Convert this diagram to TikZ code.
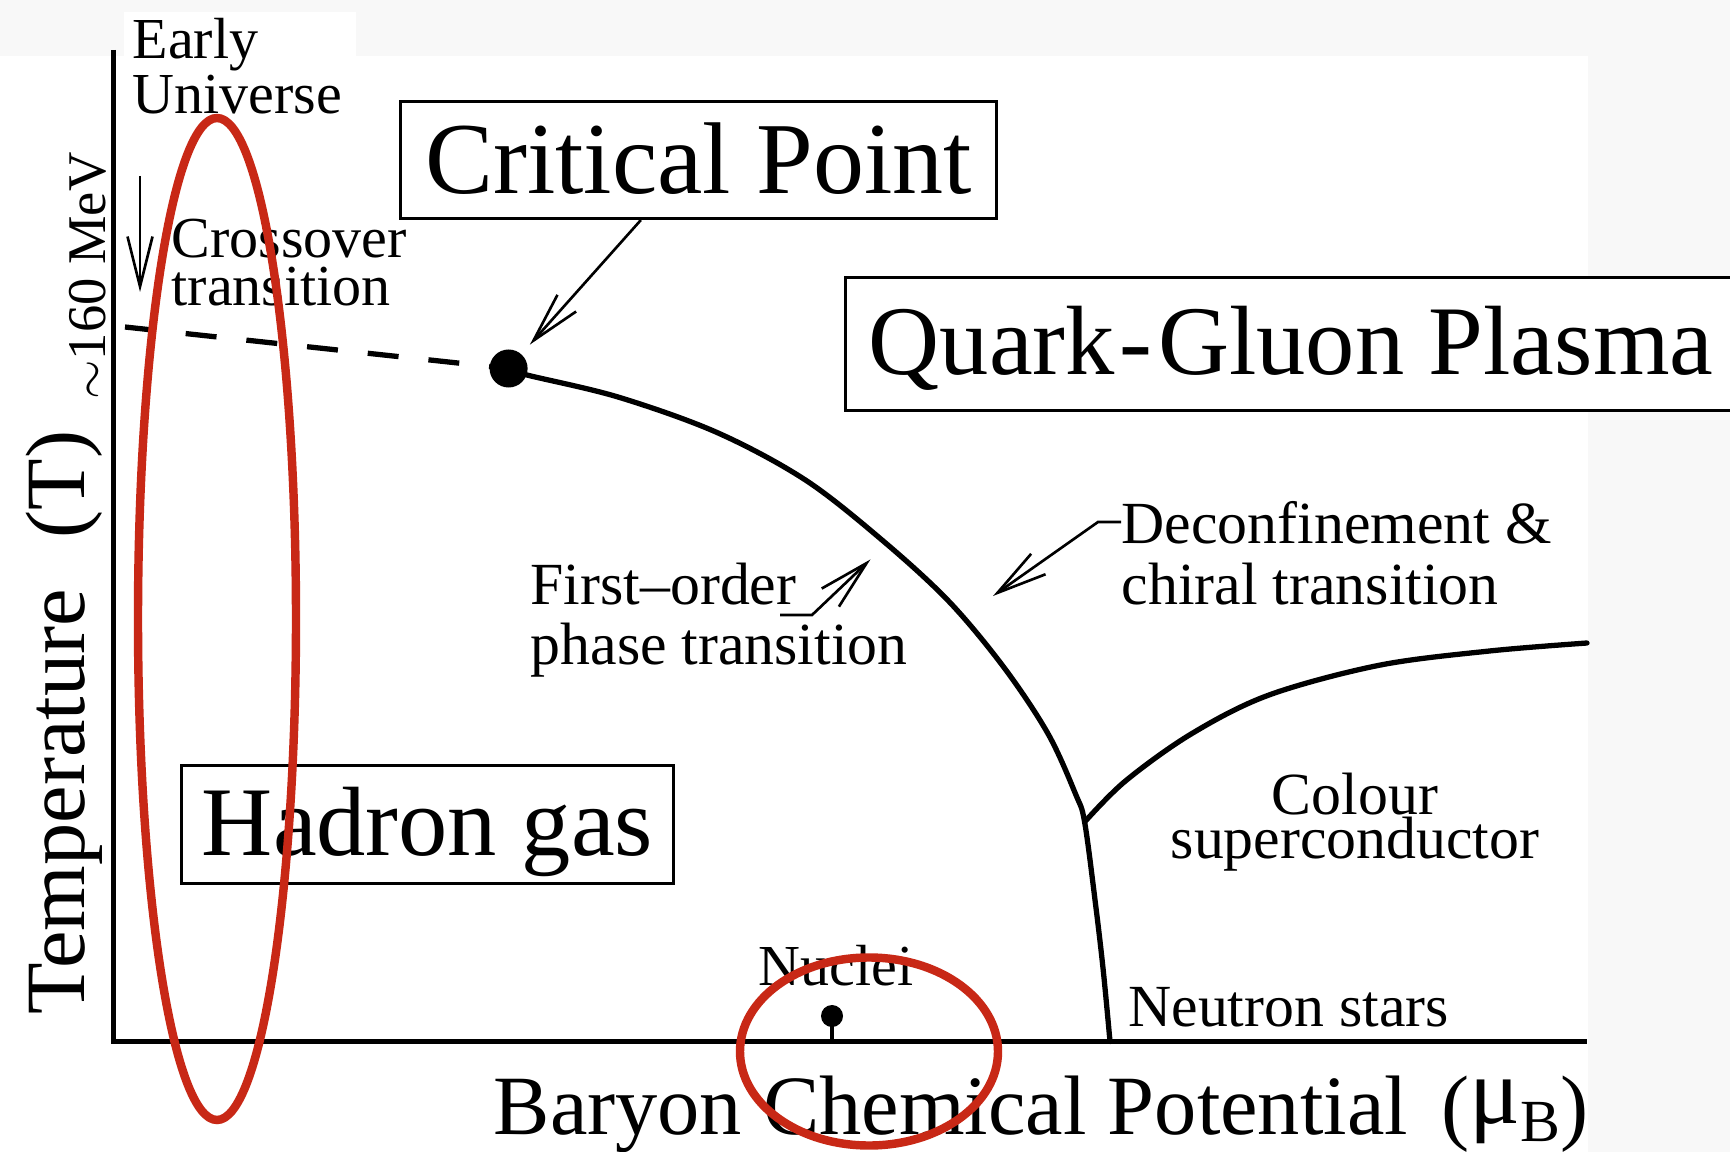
\documentclass[tikz,border=0pt]{standalone}
\usepackage{fontspec}
\setmainfont{Liberation Serif}
\usetikzlibrary{arrows.meta,calc}
\definecolor{bggray}{RGB}{248,248,248}
\definecolor{markred}{RGB}{200,40,22}
\begin{document}
\begin{tikzpicture}[x=0.01cm,y=-0.01cm,
  axisline/.style={line width=1.45pt},
  phaseline/.style={line width=1.5pt, line join=round, line cap=round},
  dashline/.style={line width=1.5pt, dash pattern=on 0.31cm off 0.30cm},
  labelbox/.style={draw, line width=0.85pt, inner sep=0pt, text depth=0pt, fill=white},
  pointer/.style={line width=0.75pt, -{Straight Barb[length=0.5cm,width=0.25cm]}},
  redmark/.style={draw=markred, line width=2.4pt},
  txt/.style={inner sep=0pt},
  dot/.style={circle, fill=black, inner sep=0pt}
]
\useasboundingbox (0,0) rectangle (1730,1152);
% background
\fill[bggray] (0,0) rectangle (1730,1152);
\fill[white] (0,56) rectangle (1588,1152);
\fill[white] (124,12) rectangle (356,56);

% axes
\coordinate (ytop) at (113.6,50);
\coordinate (orig) at (113.6,1041.5);
\coordinate (xend) at (1587,1041.5);
\draw[axisline] (ytop) -- (orig) -- (xend);

% boxes
\node[labelbox, minimum width=5.96cm, minimum height=1.17cm, text height=18.8pt,
      font=\fontsize{29}{29}\selectfont] (cpbox) at (698.4,160) {Critical Point};
\node[labelbox, minimum width=8.9cm, minimum height=1.32cm, text height=17.6pt,
      font=\fontsize{28}{28}\selectfont] (qgp) at (1291,344) {Quark\kern1.5pt-\kern1.5pt Gluon Plasma};
\node[labelbox, minimum width=4.91cm, minimum height=1.18cm, text height=17.3pt,
      font=\fontsize{28}{28}\selectfont] (hadron) at (427.5,824.7) {Hadron gas};

% labels (multi-line nodes: base = baseline of last line)
\node[txt, anchor=base west, align=left, font=\fontsize{16.5}{15.6}\selectfont] (early) at (132,113.6) {Early\\Universe};
\node[txt, anchor=base west, align=left, font=\fontsize{16.5}{13.8}\selectfont] (cross) at (171,305.6) {Crossover\\transition};
\node[txt, rotate=90, font=\fontsize{15.5}{15.5}\selectfont] (mev) at (88,276) {$\sim$160 MeV};
\node[txt, rotate=90, font=\fontsize{24}{24}\selectfont] (temp) at (64,722.7) {Temperature\hspace{0.35em} (T)};
\node[txt, anchor=base west, font=\fontsize{24}{24}\selectfont] (mub) at (493,1134)
  {Baryon Chemical Potential\hspace{0.15em} (\raisebox{3pt}{\fontsize{27}{27}\selectfont μ}\raisebox{-2pt}{\fontsize{17}{17}\selectfont B})};
\node[txt, anchor=base west, align=left, font=\fontsize{17}{17}\selectfont] (fo) at (530,664) {First–order\\phase transition};
\node[txt, anchor=base west, align=left, font=\fontsize{17}{17.3}\selectfont] (dec) at (1121,604.6) {Deconfinement \&\\chiral transition};
\node[txt, anchor=base, align=center, font=\fontsize{17}{12.5}\selectfont] (csc) at (1355,858) {Colour\\superconductor};
\node[txt, anchor=base, font=\fontsize{16.5}{16.5}\selectfont] (nuclab) at (836,985) {Nuclei};
\node[txt, anchor=base west, font=\fontsize{17}{17}\selectfont] (ns) at (1127.6,1026) {Neutron stars};

% points
\node[dot, minimum size=0.38cm] (cp) at (508.6,368.5) {};
\node[dot, minimum size=0.22cm] (nuc) at (832,1016) {};
\draw[line width=0.9pt] (nuc.center) -- (nuc.center |- orig);

% crossover dashed line and arrow
\coordinate (tc) at (125,327);
\draw[dashline] (tc) -- (cp.center);
\coordinate (tcarrs) at (140,176);
\coordinate (tcarre) at (140,292);
\draw[pointer] (tcarrs) -- (tcarre);

% phase boundary
\coordinate (jn) at (1084.6,822);
\draw[phaseline] plot[smooth, tension=0.55] coordinates {(cp.center) (527,375) (618,397) (717,432.5) (805.4,480) (882.7,540.6) (948.8,601.3) (1004,667.5) (1048,733.7) (1075.7,794.4) (jn) (1095.6,904.7) (1103.3,971) (1110,1041.5)};
\draw[phaseline] plot[smooth, tension=0.55] coordinates {(jn) (1125.4,781) (1191.6,733.7) (1269,695) (1379,665.3) (1489.5,651) (1587,643)};

% pointers
\draw[pointer, shorten >=0.32cm] ($(cpbox.south west)!0.404!(cpbox.south east)$) -- (cp.center);
\coordinate (fo1) at (780,615);
\coordinate (fo2) at (812,615);
\coordinate (fotip) at (870.5,559.4);
\draw[pointer] (fo1) -- (fo2) -- (fotip);
\coordinate (de1) at (1121,522);
\coordinate (de2) at (1098,522);
\coordinate (detip) at (993,596);
\draw[pointer] (de1) -- (de2) -- (detip);

% red marks
\draw[redmark] (217,619) ellipse [x radius=79, y radius=501];
\draw[redmark] (869,1051.5) ellipse [x radius=129, y radius=94];
\end{tikzpicture}
\end{document}
